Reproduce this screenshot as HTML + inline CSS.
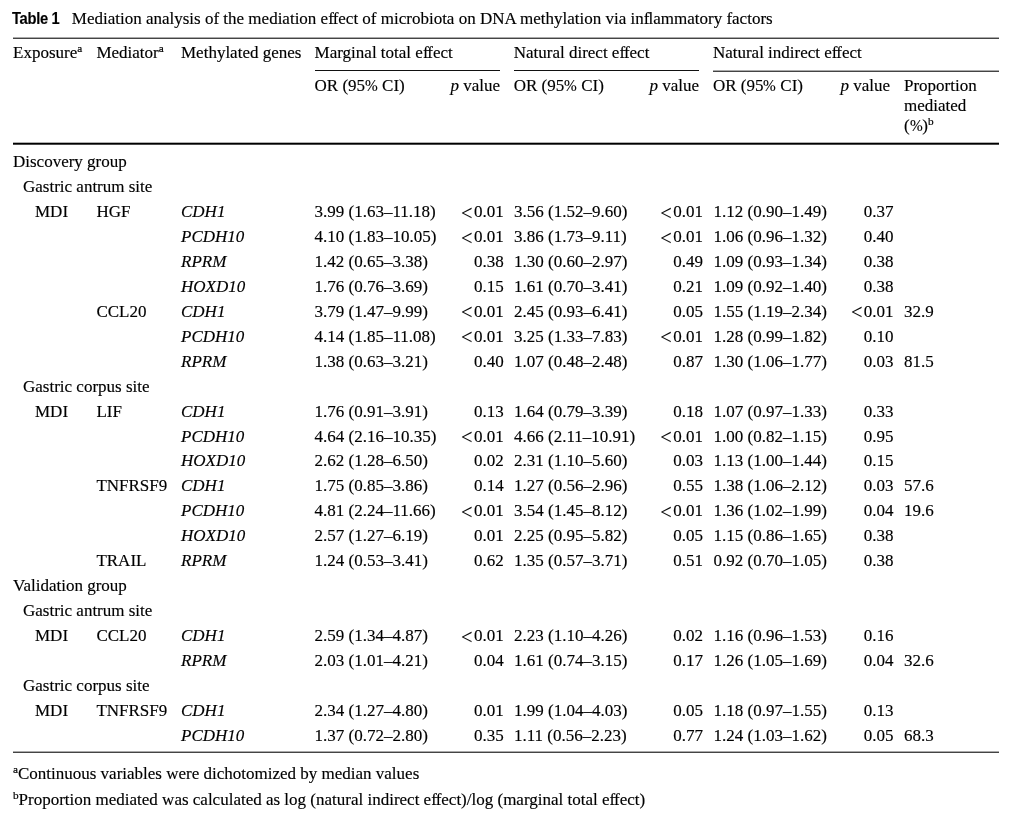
<!DOCTYPE html>
<html><head><meta charset="utf-8"><title>Table 1</title>
<style>
html,body{margin:0;padding:0;background:#fff}
body{-webkit-text-stroke:0.15px #000;width:1015px;height:817px;position:relative;overflow:hidden;font-family:"Liberation Serif",serif;font-size:17px;color:#000;line-height:20px}
.t{position:absolute;white-space:nowrap;line-height:20px}
.r{text-align:right}
.i{font-style:italic}
.h{position:absolute;background:#555;height:1px}
.cap b{display:inline-block;font-family:"Liberation Sans","DejaVu Sans",sans-serif;font-weight:bold;font-size:16.2px;letter-spacing:-0.35px;transform:scaleX(0.91);transform-origin:0 0}
.pc{display:inline-block;transform:scaleX(0.9);transform-origin:0 50%;margin-right:-1.5px}
.fl{letter-spacing:-0.9px}
.ff{letter-spacing:-1.2px}
sup{-webkit-text-stroke:0.2px #000;font-size:11.2px;line-height:0;vertical-align:baseline;position:relative;top:-6.4px}
.lt{display:inline-block;font-size:20.3px;line-height:0;position:relative;top:2.7px;margin-right:1.5px}
</style></head><body>

<div class="t cap" style="left:12.4px;top:8.2px"><b>Table 1</b></div>
<div class="t " style="left:71.8px;top:9px">Mediation analysis of the mediation e<span class="ff">f</span>fect of microbiota on DNA methylation via in<span class="fl">f</span>lammatory factors</div>
<div class="h" style="left:13px;width:986px;top:37px;height:1px;background:#aaa"></div>
<div class="h" style="left:13px;width:986px;top:38px;height:1px;background:#444"></div>
<div class="h" style="left:315px;width:185px;top:70px;height:1px;background:#111"></div>
<div class="h" style="left:514px;width:185px;top:70px;height:1px;background:#111"></div>
<div class="h" style="left:713px;width:286px;top:70px;height:1px;background:#aaa"></div>
<div class="h" style="left:713px;width:286px;top:71px;height:1px;background:#444"></div>
<div class="h" style="left:13px;width:986px;top:142px;height:1px;background:#b0b0b0"></div>
<div class="h" style="left:13px;width:986px;top:143px;height:1px;background:#000"></div>
<div class="h" style="left:13px;width:986px;top:144px;height:1px;background:#4a4a4a"></div>
<div class="h" style="left:13px;width:986px;top:751px;height:1px;background:#aaa"></div>
<div class="h" style="left:13px;width:986px;top:752px;height:1px;background:#444"></div>
<div class="t " style="left:13px;top:43px">Exposure<sup>a</sup></div>
<div class="t " style="left:96.4px;top:43px">Mediator<sup>a</sup></div>
<div class="t " style="left:181px;top:43px">Methylated genes</div>
<div class="t " style="left:314.6px;top:43px">Marginal total e<span class="ff">f</span>fect</div>
<div class="t " style="left:513.7px;top:43px">Natural direct e<span class="ff">f</span>fect</div>
<div class="t " style="left:712.9px;top:43px">Natural indirect e<span class="ff">f</span>fect</div>
<div class="t " style="left:314.6px;top:76px">OR (95<span class="pc">%</span> CI)</div>
<div class="t r " style="right:515px;top:76px"><span class="i">p</span> value</div>
<div class="t " style="left:513.7px;top:76px">OR (95<span class="pc">%</span> CI)</div>
<div class="t r " style="right:316px;top:76px"><span class="i">p</span> value</div>
<div class="t " style="left:712.9px;top:76px">OR (95<span class="pc">%</span> CI)</div>
<div class="t r " style="right:125px;top:76px"><span class="i">p</span> value</div>
<div class="t " style="left:904px;top:76px">Proportion</div>
<div class="t " style="left:904px;top:96px">mediated</div>
<div class="t " style="left:904px;top:116px">(<span class="pc">%</span>)<sup>b</sup></div>
<div class="t " style="left:13px;top:152px">Discovery group</div>
<div class="t " style="left:23px;top:176.95499999999998px">Gastric antrum site</div>
<div class="t " style="left:35px;top:201.90999999999997px">MDI</div>
<div class="t " style="left:96.4px;top:201.90999999999997px">HGF</div>
<div class="t i" style="left:181px;top:201.90999999999997px">CDH1</div>
<div class="t " style="left:314.6px;top:201.90999999999997px">3.99 (1.63–11.18)</div>
<div class="t r " style="right:511.3px;top:201.90999999999997px"><span class="lt">&lt;</span>0.01</div>
<div class="t " style="left:514.0px;top:201.90999999999997px">3.56 (1.52–9.60)</div>
<div class="t r " style="right:312px;top:201.90999999999997px"><span class="lt">&lt;</span>0.01</div>
<div class="t " style="left:713.6px;top:201.90999999999997px">1.12 (0.90–1.49)</div>
<div class="t r " style="right:121.39999999999998px;top:201.90999999999997px">0.37</div>
<div class="t i" style="left:181px;top:226.86499999999995px">PCDH10</div>
<div class="t " style="left:314.6px;top:226.86499999999995px">4.10 (1.83–10.05)</div>
<div class="t r " style="right:511.3px;top:226.86499999999995px"><span class="lt">&lt;</span>0.01</div>
<div class="t " style="left:514.0px;top:226.86499999999995px">3.86 (1.73–9.11)</div>
<div class="t r " style="right:312px;top:226.86499999999995px"><span class="lt">&lt;</span>0.01</div>
<div class="t " style="left:713.6px;top:226.86499999999995px">1.06 (0.96–1.32)</div>
<div class="t r " style="right:121.39999999999998px;top:226.86499999999995px">0.40</div>
<div class="t i" style="left:181px;top:251.81999999999994px">RPRM</div>
<div class="t " style="left:314.6px;top:251.81999999999994px">1.42 (0.65–3.38)</div>
<div class="t r " style="right:511.3px;top:251.81999999999994px">0.38</div>
<div class="t " style="left:514.0px;top:251.81999999999994px">1.30 (0.60–2.97)</div>
<div class="t r " style="right:312px;top:251.81999999999994px">0.49</div>
<div class="t " style="left:713.6px;top:251.81999999999994px">1.09 (0.93–1.34)</div>
<div class="t r " style="right:121.39999999999998px;top:251.81999999999994px">0.38</div>
<div class="t i" style="left:181px;top:276.7749999999999px">HOXD10</div>
<div class="t " style="left:314.6px;top:276.7749999999999px">1.76 (0.76–3.69)</div>
<div class="t r " style="right:511.3px;top:276.7749999999999px">0.15</div>
<div class="t " style="left:514.0px;top:276.7749999999999px">1.61 (0.70–3.41)</div>
<div class="t r " style="right:312px;top:276.7749999999999px">0.21</div>
<div class="t " style="left:713.6px;top:276.7749999999999px">1.09 (0.92–1.40)</div>
<div class="t r " style="right:121.39999999999998px;top:276.7749999999999px">0.38</div>
<div class="t " style="left:96.4px;top:301.7299999999999px">CCL20</div>
<div class="t i" style="left:181px;top:301.7299999999999px">CDH1</div>
<div class="t " style="left:314.6px;top:301.7299999999999px">3.79 (1.47–9.99)</div>
<div class="t r " style="right:511.3px;top:301.7299999999999px"><span class="lt">&lt;</span>0.01</div>
<div class="t " style="left:514.0px;top:301.7299999999999px">2.45 (0.93–6.41)</div>
<div class="t r " style="right:312px;top:301.7299999999999px">0.05</div>
<div class="t " style="left:713.6px;top:301.7299999999999px">1.55 (1.19–2.34)</div>
<div class="t r " style="right:121.39999999999998px;top:301.7299999999999px"><span class="lt">&lt;</span>0.01</div>
<div class="t " style="left:904px;top:301.7299999999999px">32.9</div>
<div class="t i" style="left:181px;top:326.6849999999999px">PCDH10</div>
<div class="t " style="left:314.6px;top:326.6849999999999px">4.14 (1.85–11.08)</div>
<div class="t r " style="right:511.3px;top:326.6849999999999px"><span class="lt">&lt;</span>0.01</div>
<div class="t " style="left:514.0px;top:326.6849999999999px">3.25 (1.33–7.83)</div>
<div class="t r " style="right:312px;top:326.6849999999999px"><span class="lt">&lt;</span>0.01</div>
<div class="t " style="left:713.6px;top:326.6849999999999px">1.28 (0.99–1.82)</div>
<div class="t r " style="right:121.39999999999998px;top:326.6849999999999px">0.10</div>
<div class="t i" style="left:181px;top:351.6399999999999px">RPRM</div>
<div class="t " style="left:314.6px;top:351.6399999999999px">1.38 (0.63–3.21)</div>
<div class="t r " style="right:511.3px;top:351.6399999999999px">0.40</div>
<div class="t " style="left:514.0px;top:351.6399999999999px">1.07 (0.48–2.48)</div>
<div class="t r " style="right:312px;top:351.6399999999999px">0.87</div>
<div class="t " style="left:713.6px;top:351.6399999999999px">1.30 (1.06–1.77)</div>
<div class="t r " style="right:121.39999999999998px;top:351.6399999999999px">0.03</div>
<div class="t " style="left:904px;top:351.6399999999999px">81.5</div>
<div class="t " style="left:23px;top:376.59499999999986px">Gastric corpus site</div>
<div class="t " style="left:35px;top:401.54999999999984px">MDI</div>
<div class="t " style="left:96.4px;top:401.54999999999984px">LIF</div>
<div class="t i" style="left:181px;top:401.54999999999984px">CDH1</div>
<div class="t " style="left:314.6px;top:401.54999999999984px">1.76 (0.91–3.91)</div>
<div class="t r " style="right:511.3px;top:401.54999999999984px">0.13</div>
<div class="t " style="left:514.0px;top:401.54999999999984px">1.64 (0.79–3.39)</div>
<div class="t r " style="right:312px;top:401.54999999999984px">0.18</div>
<div class="t " style="left:713.6px;top:401.54999999999984px">1.07 (0.97–1.33)</div>
<div class="t r " style="right:121.39999999999998px;top:401.54999999999984px">0.33</div>
<div class="t i" style="left:181px;top:426.5049999999998px">PCDH10</div>
<div class="t " style="left:314.6px;top:426.5049999999998px">4.64 (2.16–10.35)</div>
<div class="t r " style="right:511.3px;top:426.5049999999998px"><span class="lt">&lt;</span>0.01</div>
<div class="t " style="left:514.0px;top:426.5049999999998px">4.66 (2.11–10.91)</div>
<div class="t r " style="right:312px;top:426.5049999999998px"><span class="lt">&lt;</span>0.01</div>
<div class="t " style="left:713.6px;top:426.5049999999998px">1.00 (0.82–1.15)</div>
<div class="t r " style="right:121.39999999999998px;top:426.5049999999998px">0.95</div>
<div class="t i" style="left:181px;top:451.4599999999998px">HOXD10</div>
<div class="t " style="left:314.6px;top:451.4599999999998px">2.62 (1.28–6.50)</div>
<div class="t r " style="right:511.3px;top:451.4599999999998px">0.02</div>
<div class="t " style="left:514.0px;top:451.4599999999998px">2.31 (1.10–5.60)</div>
<div class="t r " style="right:312px;top:451.4599999999998px">0.03</div>
<div class="t " style="left:713.6px;top:451.4599999999998px">1.13 (1.00–1.44)</div>
<div class="t r " style="right:121.39999999999998px;top:451.4599999999998px">0.15</div>
<div class="t " style="left:96.4px;top:476.4149999999998px">TNFRSF9</div>
<div class="t i" style="left:181px;top:476.4149999999998px">CDH1</div>
<div class="t " style="left:314.6px;top:476.4149999999998px">1.75 (0.85–3.86)</div>
<div class="t r " style="right:511.3px;top:476.4149999999998px">0.14</div>
<div class="t " style="left:514.0px;top:476.4149999999998px">1.27 (0.56–2.96)</div>
<div class="t r " style="right:312px;top:476.4149999999998px">0.55</div>
<div class="t " style="left:713.6px;top:476.4149999999998px">1.38 (1.06–2.12)</div>
<div class="t r " style="right:121.39999999999998px;top:476.4149999999998px">0.03</div>
<div class="t " style="left:904px;top:476.4149999999998px">57.6</div>
<div class="t i" style="left:181px;top:501.3699999999998px">PCDH10</div>
<div class="t " style="left:314.6px;top:501.3699999999998px">4.81 (2.24–11.66)</div>
<div class="t r " style="right:511.3px;top:501.3699999999998px"><span class="lt">&lt;</span>0.01</div>
<div class="t " style="left:514.0px;top:501.3699999999998px">3.54 (1.45–8.12)</div>
<div class="t r " style="right:312px;top:501.3699999999998px"><span class="lt">&lt;</span>0.01</div>
<div class="t " style="left:713.6px;top:501.3699999999998px">1.36 (1.02–1.99)</div>
<div class="t r " style="right:121.39999999999998px;top:501.3699999999998px">0.04</div>
<div class="t " style="left:904px;top:501.3699999999998px">19.6</div>
<div class="t i" style="left:181px;top:526.3249999999998px">HOXD10</div>
<div class="t " style="left:314.6px;top:526.3249999999998px">2.57 (1.27–6.19)</div>
<div class="t r " style="right:511.3px;top:526.3249999999998px">0.01</div>
<div class="t " style="left:514.0px;top:526.3249999999998px">2.25 (0.95–5.82)</div>
<div class="t r " style="right:312px;top:526.3249999999998px">0.05</div>
<div class="t " style="left:713.6px;top:526.3249999999998px">1.15 (0.86–1.65)</div>
<div class="t r " style="right:121.39999999999998px;top:526.3249999999998px">0.38</div>
<div class="t " style="left:96.4px;top:551.2799999999999px">TRAIL</div>
<div class="t i" style="left:181px;top:551.2799999999999px">RPRM</div>
<div class="t " style="left:314.6px;top:551.2799999999999px">1.24 (0.53–3.41)</div>
<div class="t r " style="right:511.3px;top:551.2799999999999px">0.62</div>
<div class="t " style="left:514.0px;top:551.2799999999999px">1.35 (0.57–3.71)</div>
<div class="t r " style="right:312px;top:551.2799999999999px">0.51</div>
<div class="t " style="left:713.6px;top:551.2799999999999px">0.92 (0.70–1.05)</div>
<div class="t r " style="right:121.39999999999998px;top:551.2799999999999px">0.38</div>
<div class="t " style="left:13px;top:576.2349999999999px">Validation group</div>
<div class="t " style="left:23px;top:601.1899999999999px">Gastric antrum site</div>
<div class="t " style="left:35px;top:626.145px">MDI</div>
<div class="t " style="left:96.4px;top:626.145px">CCL20</div>
<div class="t i" style="left:181px;top:626.145px">CDH1</div>
<div class="t " style="left:314.6px;top:626.145px">2.59 (1.34–4.87)</div>
<div class="t r " style="right:511.3px;top:626.145px"><span class="lt">&lt;</span>0.01</div>
<div class="t " style="left:514.0px;top:626.145px">2.23 (1.10–4.26)</div>
<div class="t r " style="right:312px;top:626.145px">0.02</div>
<div class="t " style="left:713.6px;top:626.145px">1.16 (0.96–1.53)</div>
<div class="t r " style="right:121.39999999999998px;top:626.145px">0.16</div>
<div class="t i" style="left:181px;top:651.1px">RPRM</div>
<div class="t " style="left:314.6px;top:651.1px">2.03 (1.01–4.21)</div>
<div class="t r " style="right:511.3px;top:651.1px">0.04</div>
<div class="t " style="left:514.0px;top:651.1px">1.61 (0.74–3.15)</div>
<div class="t r " style="right:312px;top:651.1px">0.17</div>
<div class="t " style="left:713.6px;top:651.1px">1.26 (1.05–1.69)</div>
<div class="t r " style="right:121.39999999999998px;top:651.1px">0.04</div>
<div class="t " style="left:904px;top:651.1px">32.6</div>
<div class="t " style="left:23px;top:676.0550000000001px">Gastric corpus site</div>
<div class="t " style="left:35px;top:701.0100000000001px">MDI</div>
<div class="t " style="left:96.4px;top:701.0100000000001px">TNFRSF9</div>
<div class="t i" style="left:181px;top:701.0100000000001px">CDH1</div>
<div class="t " style="left:314.6px;top:701.0100000000001px">2.34 (1.27–4.80)</div>
<div class="t r " style="right:511.3px;top:701.0100000000001px">0.01</div>
<div class="t " style="left:514.0px;top:701.0100000000001px">1.99 (1.04–4.03)</div>
<div class="t r " style="right:312px;top:701.0100000000001px">0.05</div>
<div class="t " style="left:713.6px;top:701.0100000000001px">1.18 (0.97–1.55)</div>
<div class="t r " style="right:121.39999999999998px;top:701.0100000000001px">0.13</div>
<div class="t i" style="left:181px;top:725.9650000000001px">PCDH10</div>
<div class="t " style="left:314.6px;top:725.9650000000001px">1.37 (0.72–2.80)</div>
<div class="t r " style="right:511.3px;top:725.9650000000001px">0.35</div>
<div class="t " style="left:514.0px;top:725.9650000000001px">1.11 (0.56–2.23)</div>
<div class="t r " style="right:312px;top:725.9650000000001px">0.77</div>
<div class="t " style="left:713.6px;top:725.9650000000001px">1.24 (1.03–1.62)</div>
<div class="t r " style="right:121.39999999999998px;top:725.9650000000001px">0.05</div>
<div class="t " style="left:904px;top:725.9650000000001px">68.3</div>
<div class="t " style="left:13px;top:764px"><sup>a</sup>Continuous variables were dichotomized by median values</div>
<div class="t " style="left:13px;top:790px"><sup>b</sup>Proportion mediated was calculated as log (natural indirect e<span class="ff">f</span>fect)/log (marginal total e<span class="ff">f</span>fect)</div>
</body></html>
